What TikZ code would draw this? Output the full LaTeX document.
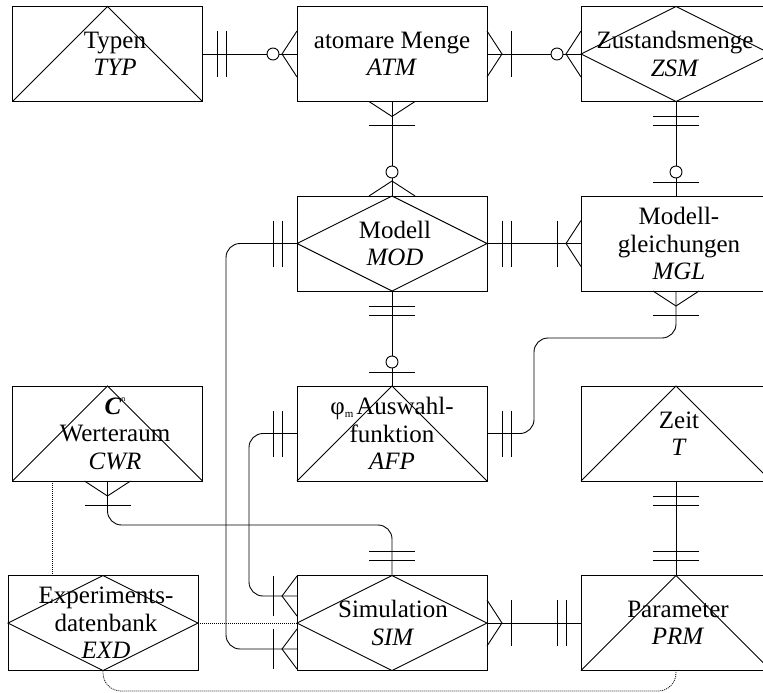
\documentclass[tikz,border=0pt]{standalone}
\usepackage{fontspec}
\setmainfont{Liberation Serif}
\begin{document}
\begin{tikzpicture}[x=1pt,y=-1pt,line width=0.9pt,
  box/.style={draw,rectangle,minimum width=190pt,minimum height=95pt,inner sep=0pt,outer sep=0pt},
  lbl/.style={align=center,inner sep=0pt,font=\fontsize{25}{27.5}\selectfont},
  link/.style={draw,rounded corners=14pt},
  dots/.style={draw,line width=0.8pt,dash pattern=on 1pt off 1pt,rounded corners=18pt},
  erOne/.pic={\draw (15,-23) -- (15,23); \draw (24,-23) -- (24,23);},
  erZeroOne/.pic={\draw (14,-23) -- (14,23); \draw[fill=white] (24,0) circle[radius=6pt];},
  erManyOne/.pic={\draw (0,23) -- (15,0) -- (0,-23); \draw (24,-23) -- (24,23);},
  erManyOneNarrow/.pic={\draw (0,20) -- (15,0) -- (0,-20); \draw (24,-20) -- (24,20);},
  erManyZero/.pic={\draw (0,23) -- (15,0) -- (0,-23); \draw[fill=white] (24,0) circle[radius=6pt];}
]
\useasboundingbox (0,0) rectangle (763,693);
\clip (0,0) rectangle (763,693);

% entity boxes
\node[box] (typ)  at (107.5,54)   {};
\node[box] (atm)  at (392,54)     {};
\node[box] (zsm)  at (676,54)     {};
\node[box] (mod)  at (392,243.5)  {};
\node[box] (mgl)  at (676,243.5)  {};
\node[box] (cwr)  at (107.5,433.5){};
\node[box] (afp)  at (392,433.5)  {};
\node[box] (zeit) at (676,433.5)  {};
\node[box] (exd)  at (103,623)    {};
\node[box] (sim)  at (392,623)    {};
\node[box] (prm)  at (676,623)    {};

% inner figures: triangles and diamonds
\foreach \b in {typ,cwr,afp,zeit,prm}
  \draw (\b.south west) -- (\b.north) -- (\b.south east);
\foreach \b in {zsm,mod,exd,sim}
  \draw (\b.west) -- (\b.north) -- (\b.east) -- (\b.south) -- cycle;

% labels
\node[lbl] (typ-l)  at (115,54)    {Typen\\\textit{TYP}};
\node[lbl] (atm-l)  at (392,54)    {atomare Menge\\\textit{ATM}};
\node[lbl] (zsm-l)  at (675,54)    {Zustandsmenge\\\textit{ZSM}};
\node[lbl] (mod-l)  at (395,243.5) {Modell\\\textit{MOD}};
\node[lbl] (mgl-l)  at (679,243.5) {Modell-\\gleichungen\\\textit{MGL}};
\node[lbl] (cwr-l)  at (115,433.5) {\textbf{\textit{C}}\raisebox{13pt}{\fontsize{8}{8}\selectfont n}\\Werteraum\\\textit{CWR}};
\node[lbl] (afp-l)  at (392,433.5) {φ\raisebox{-3pt}{\fontsize{11}{11}\selectfont m}\hspace{3pt}Auswahl-\\funktion\\\textit{AFP}};
\node[lbl] (zeit-l) at (679,433.5) {Zeit\\\textit{T}};
\node[lbl] (exd-l)  at (106,623)   {Experiments-\\datenbank\\\textit{EXD}};
\node[lbl] (sim-l)  at (393,623)   {Simulation\\\textit{SIM}};
\node[lbl] (prm-l)  at (678,623)   {Parameter\\\textit{PRM}};

% helper points for routed connectors
\coordinate (simup)  at ([yshift=27pt]sim.west);
\coordinate (simlow) at ([yshift=-26pt]sim.west);
\coordinate (laneA)  at (226,450);
\coordinate (laneB)  at (249,500);
\coordinate (laneC)  at (250,525);
\coordinate (kneeA)  at (534,338);
\coordinate (dotx)   at (52,0);
\coordinate (dotbase) at (400,691);

% relationships
\draw (typ.east) -- (atm.west);
\draw (atm.east) -- (zsm.west);
\draw (atm.south) -- (mod.north);
\draw (zsm.south) -- (mgl.north);
\draw (mod.east) -- (mgl.west);
\draw (mod.south) -- (afp.north);
\draw[link] (mgl.south) |- (kneeA) |- (afp.east);
\draw[link] (mod.west) -| (laneA) |- (simlow);
\draw[link] (afp.west) -| (laneB) |- (simup);
\draw[link] (cwr.south) |- (laneC) -| (sim.north);
\draw (zeit.south) -- (prm.north);
\draw (sim.east) -- (prm.west);

% dotted references
\draw[dots] (cwr.south -| dotx) -- (exd.north -| dotx);
\draw[dots] (exd.east) -- (sim.west);
\draw[dots] (exd.south) |- (dotbase) -| (prm.south);

% cardinality marks
\pic at (typ.east) {erOne};
\pic[rotate=180] at (atm.west) {erManyZero};
\pic at (atm.east) {erManyOne};
\pic[rotate=180] at (zsm.west) {erManyZero};
\pic[rotate=-90] at (atm.south) {erManyOne};
\pic[rotate=90] at (mod.north) {erManyZero};
\pic[rotate=-90] at (zsm.south) {erOne};
\pic[rotate=90] at (mgl.north) {erZeroOne};
\pic at (mod.east) {erOne};
\pic[rotate=180] at (mgl.west) {erManyOne};
\pic[rotate=-90] at (mod.south) {erOne};
\pic[rotate=90] at (afp.north) {erZeroOne};
\pic[rotate=-90] at (mgl.south) {erManyOne};
\pic at (afp.east) {erOne};
\pic[rotate=180] at (mod.west) {erOne};
\pic[rotate=180] at (simlow) {erManyOneNarrow};
\pic[rotate=180] at (afp.west) {erOne};
\pic[rotate=180] at (simup) {erManyOneNarrow};
\pic[rotate=-90] at (cwr.south) {erManyOne};
\pic[rotate=90] at (sim.north) {erOne};
\pic[rotate=-90] at (zeit.south) {erOne};
\pic[rotate=90] at (prm.north) {erOne};
\pic at (sim.east) {erManyOne};
\pic[rotate=180] at (prm.west) {erOne};
\end{tikzpicture}
\end{document}
